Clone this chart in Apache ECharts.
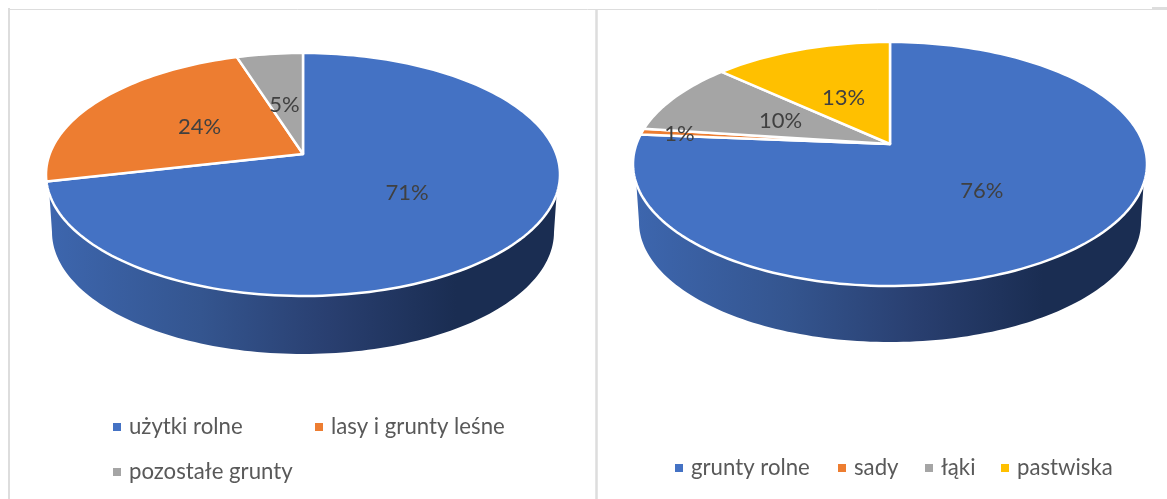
<!DOCTYPE html>
<html>
<head>
<meta charset="utf-8">
<style>html,body{margin:0;padding:0;background:#fff}#c{width:1167px;height:499px}</style>
<script src="https://cdn.jsdelivr.net/npm/echarts@6/dist/echarts.min.js"></script>
</head>
<body>
<div id="c"></div>
<script>
const leftCategories = ['użytki rolne', 'lasy i grunty leśne', 'pozostałe grunty'];
const leftValues = [71.4, 23.7, 4.9];
const rightCategories = ['grunty rolne', 'sady', 'łąki', 'pastwiska'];
const rightValues = [76.3, 0.8, 9.7, 13.2];
const sliceColors = ['#4472C4', '#ED7D31', '#A5A5A5', '#FFC000'];

const FONT = 'Lato, Carlito, "Open Sans", sans-serif';
const leftPie  = {cx: 303, apexY: 154, up: 101, down: 142, rx: 257, wallCy: 232, wallRx: 251, wallRy: 122, wallTop: 194};
const rightPie = {cx: 890, apexY: 144, up: 102, down: 142, rx: 257, wallCy: 222, wallRx: 251, wallRy: 120, wallTop: 184};

// perspective projection of a tilted disc: share (0..1, clockwise from top) to screen offset
function project(p, share) {
  const k = (p.down - p.up) / (p.down + p.up);
  const sy = p.down * (1 - k);
  const sx = p.rx * Math.sqrt(1 - k * k);
  const a = share * 2 * Math.PI;
  const x = Math.sin(a), y = -Math.cos(a), w = 1 - k * y;
  return [sx * x / w, sy * y / w];
}

function labelOffset(m, v) {
  if (v < 0.03) return [m[0] * 0.85, m[1] * 0.85];
  return [m[0] < 0 ? m[0] * 0.5 - 2 : m[0] * 0.47, m[1] * 0.48 - 1];
}

function sliceSeries(p, name, color, start, value, total) {
  return {
    type: 'custom', name: name, coordinateSystem: 'none', silent: true, z: 3,
    itemStyle: {color: color},
    data: [[start, value, total]],
    renderItem: function (params, api) {
      const s0 = api.value(0) / api.value(2), v = api.value(1) / api.value(2);
      const n = Math.max(4, Math.ceil(v * 240));
      const pts = [[p.cx, p.apexY]];
      for (let i = 0; i <= n; i++) {
        const o = project(p, s0 + v * i / n);
        pts.push([p.cx + o[0], p.apexY + o[1]]);
      }
      const l = labelOffset(project(p, s0 + v / 2), v);
      return {
        type: 'group',
        children: [
          {type: 'polygon', shape: {points: pts}, style: {fill: color, stroke: '#fff', lineWidth: 2.5, lineJoin: 'round'}},
          {type: 'text', z2: 10, style: {
            x: p.cx + l[0], y: p.apexY + l[1],
            text: Math.round(v * 100) + '%',
            fill: '#404040', font: '22px ' + FONT, align: 'center', verticalAlign: 'middle'
          }}
        ]
      };
    }
  };
}

function wallSeries(p) {
  return {
    type: 'custom', coordinateSystem: 'none', silent: true, z: 1,
    data: [[0]],
    renderItem: function () {
      const pts = [[p.cx - p.rx + 2, p.wallTop - 20]];
      for (let i = 0; i <= 120; i++) {
        const a = Math.PI - Math.PI * i / 120;
        pts.push([p.cx + p.wallRx * Math.cos(a), p.wallCy + p.wallRy * Math.sin(a)]);
      }
      pts.push([p.cx + p.rx - 2, p.wallTop - 20]);
      return {type: 'polygon', shape: {points: pts}, style: {
        fill: new echarts.graphic.LinearGradient(0, 0, 1, 0, [
          {offset: 0, color: '#3D66AE'},
          {offset: 0.3, color: '#34558F'},
          {offset: 0.55, color: '#293F70'},
          {offset: 0.8, color: '#1A2D52'},
          {offset: 1, color: '#1A2D52'}
        ])
      }};
    }
  };
}

function buildSeries(p, cats, vals) {
  const total = vals.reduce((a, b) => a + b, 0);
  let acc = 0;
  const out = [wallSeries(p)];
  cats.forEach((c, i) => {
    out.push(sliceSeries(p, c, sliceColors[i], acc, vals[i], total));
    acc += vals[i];
  });
  return out;
}

function legendItem(name, left, centerY) {
  return {
    data: [name], left: left, top: centerY - 13, padding: 0,
    icon: 'rect', itemWidth: 8, itemHeight: 8, selectedMode: false,
    textStyle: {color: '#595959', fontFamily: FONT, fontSize: 22.2, lineHeight: 26, padding: [0, 0, 0, 3]}
  };
}

function frameLine(x1, y1, x2, y2, w) {
  return {type: 'line', silent: true, shape: {x1, y1, x2, y2}, style: {stroke: '#DDDDDD', lineWidth: w}};
}

const chart = echarts.init(document.getElementById('c'), null, {renderer: 'canvas'});
chart.setOption({
  animation: false,
  backgroundColor: '#fff',
  legend: [
    legendItem(leftCategories[0], 113, 427),
    legendItem(leftCategories[1], 315, 427),
    legendItem(leftCategories[2], 113, 472),
    legendItem(rightCategories[0], 675, 468),
    legendItem(rightCategories[1], 838, 468),
    legendItem(rightCategories[2], 925, 468),
    legendItem(rightCategories[3], 1001, 468)
  ],
  graphic: [
    frameLine(9, 8, 9, 499, 2),
    frameLine(8, 9.5, 1167, 9.5, 1),
    frameLine(596.5, 10, 596.5, 499, 2.5),
    frameLine(1152, 8, 1167, 8, 2)
  ],
  series: buildSeries(leftPie, leftCategories, leftValues)
    .concat(buildSeries(rightPie, rightCategories, rightValues))
});
</script>
</body>
</html>
